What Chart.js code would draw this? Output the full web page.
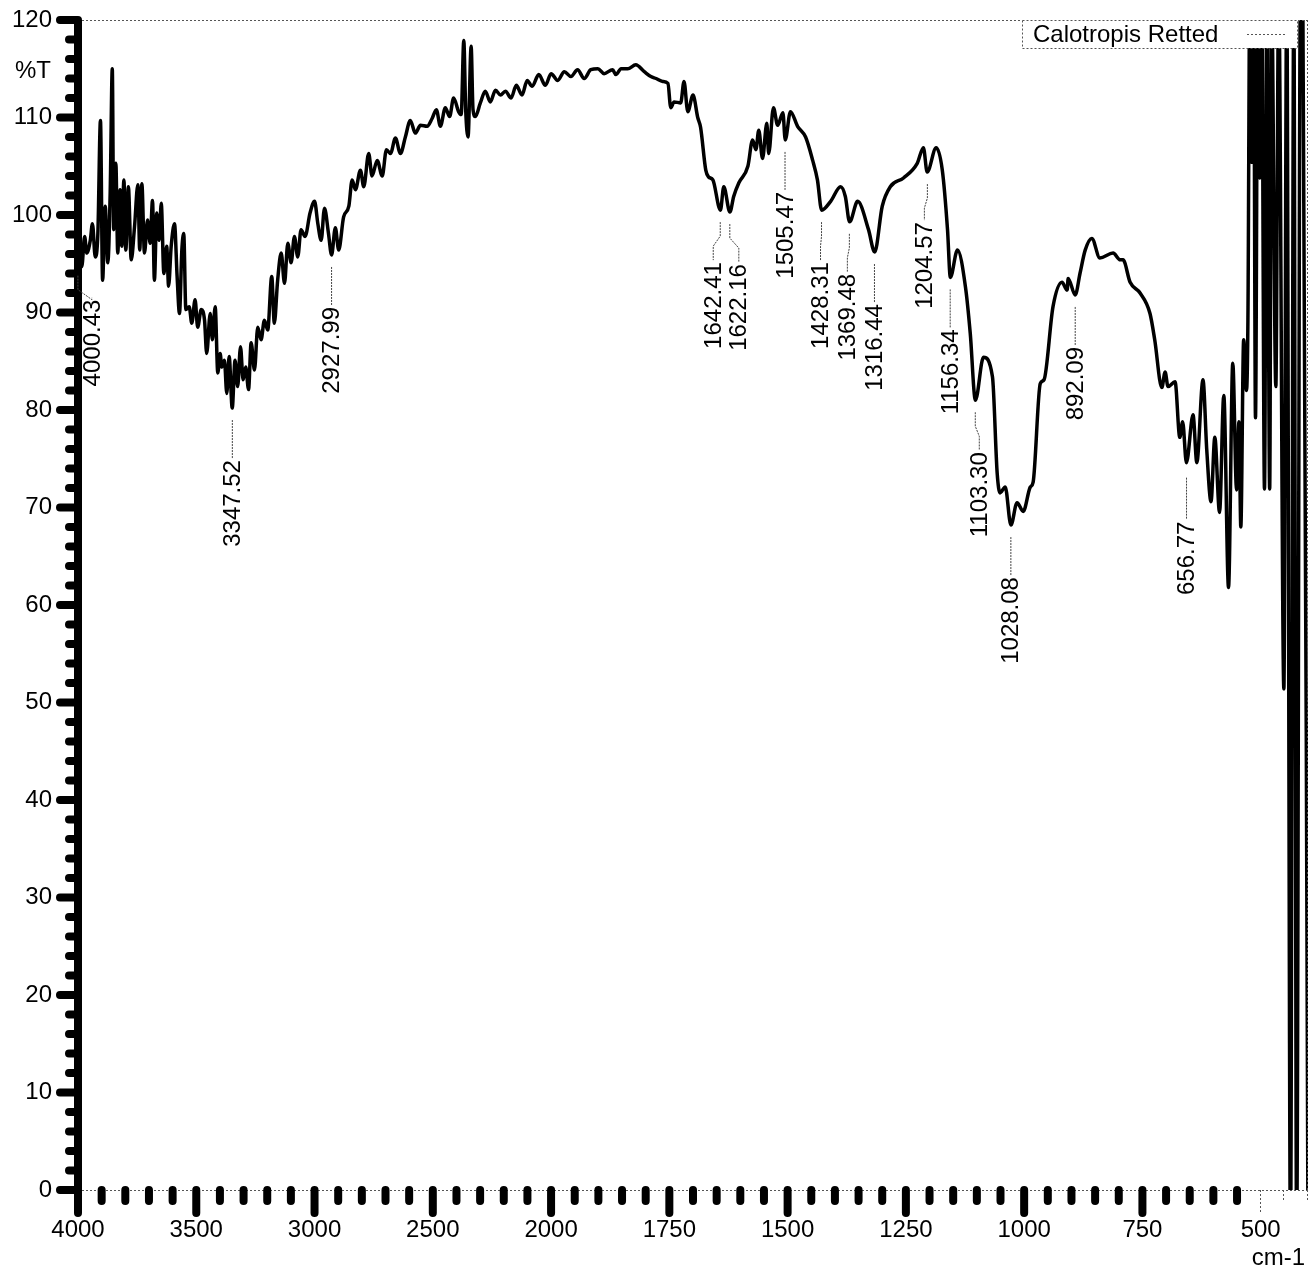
<!DOCTYPE html>
<html>
<head>
<meta charset="utf-8">
<title>Calotropis Retted - FTIR</title>
<script src="https://cdn.jsdelivr.net/npm/chart.js@4/dist/chart.umd.min.js"></script>
<style>
    html, body { margin: 0; padding: 0; background: #fff; }
    #wrap { width: 1309px; height: 1268px; position: relative; }
</style>
</head>
<body>
<div id="wrap"><canvas id="irChart"></canvas></div>
<script>
const seriesName = 'Calotropis Retted';

// wavenumber (cm-1) and %T
const wavenumbers = [
    4000, 3984, 3972, 3963, 3948, 3939, 3927, 3916, 3905, 3896, 3885, 3874, 3864, 3855, 3849, 3840,
    3832, 3822, 3815, 3806, 3798, 3787, 3775, 3761, 3747, 3739, 3730, 3719, 3706, 3695, 3685, 3677,
    3667, 3657, 3648, 3637, 3625, 3617, 3606, 3592, 3581, 3571, 3561, 3553, 3544, 3530, 3519, 3505,
    3494, 3479, 3465, 3456, 3441, 3432, 3420, 3409, 3399, 3392, 3381, 3371, 3361, 3348, 3336, 3325,
    3313, 3302, 3291, 3279, 3268, 3254, 3240, 3226, 3212, 3198, 3181, 3170, 3156, 3141, 3127, 3113,
    3099, 3085, 3071, 3057, 3040, 3019, 3000, 2986, 2972, 2958, 2941, 2928, 2912, 2898, 2877, 2855,
    2841, 2827, 2806, 2792, 2771, 2757, 2735, 2714, 2696, 2679, 2658, 2637, 2616, 2595, 2574, 2552,
    2524, 2503, 2485, 2468, 2447, 2429, 2412, 2391, 2380, 2369, 2361, 2351, 2338, 2330, 2320, 2299,
    2278, 2257, 2235, 2214, 2193, 2169, 2147, 2123, 2101, 2080, 2052, 2024, 2000, 1986, 1972, 1958,
    1944, 1930, 1916, 1901, 1888, 1870, 1863, 1852, 1838, 1821, 1803, 1789, 1778, 1764, 1753, 1747,
    1740, 1726, 1719, 1711, 1700, 1690, 1684, 1673, 1667, 1658, 1642, 1635, 1622, 1614, 1603, 1584,
    1574, 1567, 1561, 1553, 1544, 1540, 1530, 1521, 1510, 1505, 1494, 1479, 1462, 1447, 1437, 1428,
    1409, 1388, 1378, 1369, 1352, 1329, 1316, 1300, 1283, 1255, 1226, 1213, 1205, 1186, 1173, 1162,
    1156, 1141, 1124, 1114, 1103, 1086, 1067, 1057, 1051, 1040, 1028, 1015, 1002, 987, 981, 966,
    958, 939, 920, 909, 907, 892, 882, 871, 857, 840, 812, 797, 791, 776, 755, 734,
    724, 709, 702, 696, 681, 671, 665, 657, 643, 635, 622, 614, 605, 597, 587, 578,
    568, 559, 551, 546, 542, 536, 530, 527, 523, 519, 515, 511, 506, 502, 498, 492,
    487, 481, 477, 468, 462, 451, 445, 437, 430, 424, 416, 411, 400
];
const transmittance = [
    98.8, 94.7, 97.8, 96.1, 97.4, 99.1, 95.7, 98.1, 109.7, 93.3, 100.9, 95.1, 102.2, 115.0, 98.5, 105.3,
    96.1, 102.6, 96.8, 103.6, 96.4, 102.9, 95.4, 98.8, 103.1, 96.4, 103.2, 96.1, 99.5, 97.1, 101.5, 93.3,
    100.2, 97.4, 101.2, 94.0, 96.8, 92.7, 96.8, 99.1, 93.7, 89.9, 96.4, 98.1, 90.3, 90.6, 88.9, 91.3,
    88.5, 90.3, 89.2, 85.8, 89.9, 87.2, 90.6, 83.8, 85.8, 84.4, 85.1, 81.7, 85.5, 80.2, 85.1, 82.4,
    86.5, 83.1, 84.4, 82.1, 86.9, 84.1, 88.5, 87.2, 89.2, 88.2, 93.7, 88.9, 93.3, 96.1, 93.0, 97.1,
    95.1, 97.8, 95.7, 98.5, 97.8, 100.2, 101.4, 99.1, 97.4, 100.7, 98.1, 95.9, 98.7, 96.4, 99.8, 100.9,
    103.6, 102.6, 104.6, 102.9, 106.3, 104.0, 105.6, 104.0, 106.7, 106.3, 107.9, 106.3, 108.0, 109.7, 108.4, 109.2,
    109.1, 109.9, 110.8, 109.1, 111.0, 110.1, 112.0, 110.6, 110.3, 117.9, 110.8, 108.0, 117.3, 110.8, 110.1, 111.5,
    112.7, 111.6, 112.8, 112.3, 112.7, 112.0, 113.3, 112.3, 113.8, 113.2, 114.4, 113.3, 114.5, 113.8, 114.7, 114.2,
    114.9, 114.0, 114.9, 115.0, 114.5, 114.9, 114.4, 115.0, 115.0, 115.4, 114.7, 114.2, 114.0, 113.7, 113.5, 111.0,
    111.6, 111.5, 113.7, 110.6, 112.3, 110.0, 109.0, 104.6, 103.9, 103.6, 100.5, 102.9, 100.3, 101.9, 103.3, 105.0,
    107.7, 106.7, 108.7, 105.8, 109.4, 106.3, 111.0, 109.2, 110.5, 107.7, 110.6, 109.1, 108.0, 105.6, 103.6, 100.5,
    101.4, 102.9, 101.9, 99.3, 101.4, 98.5, 96.2, 100.9, 102.9, 103.8, 105.3, 106.9, 104.4, 106.9, 104.6, 98.5,
    93.6, 96.4, 92.6, 87.9, 81.0, 85.4, 83.4, 73.5, 71.5, 72.1, 68.2, 70.5, 69.6, 72.1, 72.6, 82.7,
    83.1, 90.6, 93.1, 92.3, 93.5, 91.8, 94.0, 96.4, 97.6, 95.6, 96.1, 95.4, 95.4, 93.1, 92.0, 89.9,
    87.2, 82.3, 83.9, 82.4, 82.9, 77.2, 78.8, 74.6, 79.5, 74.6, 83.1, 75.9, 70.6, 77.2, 69.5, 81.5,
    61.8, 84.8, 71.8, 78.8, 68.0, 87.2, 82.0, 89.2, 123, 105.4, 123, 79.2, 123, 103.8, 123, 71.9,
    123, 71.9, 123, 82.4, 123, 51.4, 123, -5, 123, -5, 123, 123, -5
];

const xTickLabels = [4000, 3500, 3000, 2500, 2000, 1750, 1500, 1250, 1000, 750, 500];
const yTickLabels = [0, 10, 20, 30, 40, 50, 60, 70, 80, 90, 100, 110, 120];

// picked peaks
const peakWavenumbers = [4000.43, 3347.52, 2927.99, 1642.41, 1622.16, 1505.47, 1428.31, 1369.48,
    1316.44, 1204.57, 1156.34, 1103.30, 1028.08, 892.09, 656.77];
const peakTransmittance = [94.6, 80.2, 95.9, 100.5, 100.3, 107.7, 100.5, 99.3,
    96.2, 104.4, 93.6, 81.0, 68.2, 91.8, 74.6];

// where each peak label sits relative to its peak (pixels)
const peakLabelStyle = {
    '4000.43': { dx: 14, start: 8, gap: 30 },
    '1642.41': { dx: -7 },
    '1622.16': { dx: 9 },
    '1428.31': { dx: -1 },
    '1369.48': { dx: -2 },
    '1204.57': { dx: -3, gap: 48 },
    '1103.30': { dx: 4 },
    '656.77': { start: 15, gap: 57 }
};

// instrument axis: 4000-2000 at 500 per division, below 2000 at 250 per division
function toAxis(w) {
    return w >= 2000 ? (4000 - w) / 500 : 4 + (2000 - w) / 250;
}

const FONT = '"Liberation Sans", Arial, sans-serif';
Chart.defaults.font.family = FONT;
Chart.defaults.font.size = 24;
Chart.defaults.color = '#000';

const irDecor = {
    id: 'irDecor',
    afterDraw(chart) {
        const { ctx, chartArea: area, scales: { x, y } } = chart;
        ctx.save();

        // dotted frame
        ctx.strokeStyle = '#555';
        ctx.lineWidth = 1;
        ctx.setLineDash([2, 2]);
        ctx.beginPath();
        ctx.moveTo(area.left, area.top + 0.5);
        ctx.lineTo(area.right, area.top + 0.5);
        ctx.moveTo(area.left, area.bottom + 0.5);
        ctx.lineTo(area.right, area.bottom + 0.5);
        ctx.moveTo(area.right - 0.5, area.top);
        ctx.lineTo(area.right - 0.5, area.bottom);
        // thin ticks past the last bold one (500, 450, 400)
        [500, 450, 400].forEach(w => {
            const px = Math.round(x.getPixelForValue(toAxis(w))) - 0.5;
            ctx.moveTo(px, area.bottom);
            ctx.lineTo(px, area.bottom + (w === 500 ? 23 : 12));
        });
        ctx.stroke();
        ctx.setLineDash([]);

        // bold spine and tick marks
        ctx.strokeStyle = '#000';
        ctx.lineWidth = 8;
        ctx.lineCap = 'round';
        ctx.beginPath();
        ctx.moveTo(area.left, area.top);
        ctx.lineTo(area.left, area.bottom + 23);
        for (let k = 0; k <= 60; k++) {
            const py = y.getPixelForValue(k * 2);
            ctx.moveTo(area.left - (k % 5 === 0 ? 18 : 9), py);
            ctx.lineTo(area.left, py);
        }
        for (let k = 1; k <= 49; k++) {
            const px = x.getPixelForValue(k / 5);
            ctx.moveTo(px, area.bottom);
            ctx.lineTo(px, area.bottom + (k % 5 === 0 ? 23 : 11));
        }
        ctx.stroke();

        // axis units
        ctx.fillStyle = '#000';
        ctx.font = '24px ' + FONT;
        ctx.textAlign = 'right';
        ctx.textBaseline = 'middle';
        ctx.fillText('%T', 51, 71);
        ctx.fillText('cm-1', 1305, 1258);

        // peak labels
        peakWavenumbers.forEach((w, i) => {
            const label = w.toFixed(2);
            const s = Object.assign({ dx: 0, start: 12, gap: 50 }, peakLabelStyle[label]);
            const px = x.getPixelForValue(toAxis(w));
            const py = y.getPixelForValue(peakTransmittance[i]);
            const top = py + s.gap;

            ctx.strokeStyle = '#444';
            ctx.lineWidth = 1;
            ctx.lineCap = 'butt';
            ctx.setLineDash([2, 1]);
            ctx.beginPath();
            ctx.moveTo(px, py + s.start);
            if (s.dx !== 0) {
                ctx.lineTo(px, py + s.start + 14);
                ctx.lineTo(px + s.dx, py + s.start + 24);
            }
            ctx.lineTo(px + s.dx, top);
            ctx.stroke();
            ctx.setLineDash([]);

            ctx.save();
            ctx.translate(px + s.dx, top);
            ctx.rotate(-Math.PI / 2);
            ctx.textAlign = 'right';
            ctx.textBaseline = 'middle';
            ctx.fillText(label, -2, 1);
            ctx.restore();
        });

        // legend box
        const lx = 1022, ly = area.top, lw = 275, lh = 28;
        ctx.fillStyle = '#fff';
        ctx.fillRect(lx, ly, lw, lh);
        ctx.strokeStyle = '#555';
        ctx.lineWidth = 1;
        ctx.setLineDash([2, 2]);
        ctx.strokeRect(lx + 0.5, ly + 0.5, lw, lh);
        ctx.beginPath();
        ctx.moveTo(lx + 225, ly + 14.5);
        ctx.lineTo(lx + 265, ly + 14.5);
        ctx.stroke();
        ctx.setLineDash([]);
        ctx.fillStyle = '#000';
        ctx.textAlign = 'left';
        ctx.textBaseline = 'middle';
        ctx.fillText(chart.data.datasets[0].label, lx + 11, ly + 15);

        ctx.restore();
    }
};

const ctx = document.getElementById('irChart').getContext('2d');
new Chart(ctx, {
    type: 'line',
    data: {
        datasets: [{
            label: seriesName,
            data: wavenumbers.map((w, i) => ({ x: toAxis(w), y: transmittance[i] })),
            borderColor: '#000',
            borderWidth: 3.5,
            borderJoinStyle: 'round',
            borderCapStyle: 'round',
            pointRadius: 0,
            cubicInterpolationMode: 'monotone',
            fill: false,
            clip: 0
        }]
    },
    options: {
        responsive: true,
        maintainAspectRatio: false,
        animation: false,
        events: [],
        layout: { padding: { top: 20, right: 1, left: 0, bottom: 0 } },
        plugins: {
            legend: { display: false },
            tooltip: { enabled: false }
        },
        scales: {
            x: {
                type: 'linear',
                min: 0,
                max: toAxis(400),
                grid: { display: false, drawTicks: false },
                border: { display: false },
                afterFit: scale => {
                    scale.height = 78;
                    scale.paddingLeft = 0;
                    scale.paddingRight = 0;
                },
                afterBuildTicks: scale => {
                    scale.ticks = xTickLabels.map(w => ({ value: toAxis(w) }));
                },
                ticks: {
                    padding: 26,
                    autoSkip: false,
                    maxRotation: 0,
                    minRotation: 0,
                    callback: value => {
                        const hit = xTickLabels.find(w => Math.abs(toAxis(w) - value) < 1e-6);
                        return hit === undefined ? '' : String(hit);
                    }
                }
            },
            y: {
                min: 0,
                max: 120,
                grid: { display: false, drawTicks: false },
                border: { display: false },
                afterFit: scale => {
                    scale.width = 78;
                    scale.paddingTop = 0;
                    scale.paddingBottom = 0;
                },
                afterBuildTicks: scale => {
                    scale.ticks = yTickLabels.map(v => ({ value: v }));
                },
                ticks: { padding: 26 }
            }
        }
    },
    plugins: [irDecor]
});
</script>
</body>
</html>
